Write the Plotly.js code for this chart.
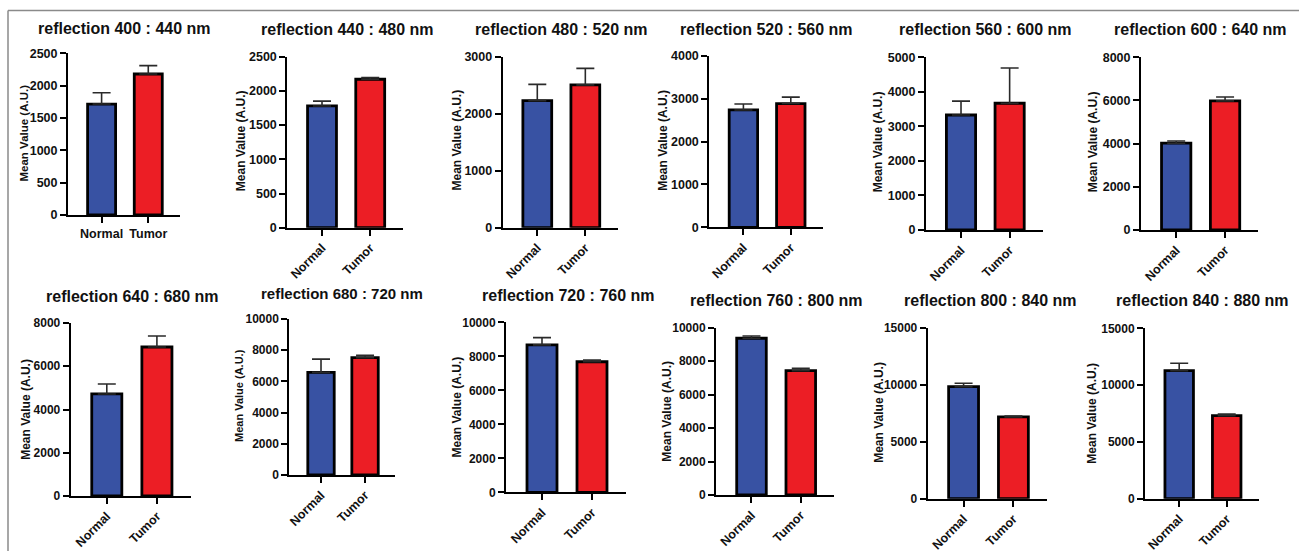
<!DOCTYPE html>
<html>
<head>
<meta charset="utf-8">
<script src="https://cdn.plot.ly/plotly-3.0.1.min.js"></script>
<style>
html,body{margin:0;padding:0;background:#fff;}
#chart{width:1299px;height:551px;}
</style>
</head>
<body>
<div id="chart"></div>
<script>
// ---------- data ----------
const categories = ['Normal', 'Tumor'];
const panelTitles = [
  'reflection 400 : 440 nm', 'reflection 440 : 480 nm', 'reflection 480 : 520 nm',
  'reflection 520 : 560 nm', 'reflection 560 : 600 nm', 'reflection 600 : 640 nm',
  'reflection 640 : 680 nm', 'reflection 680 : 720 nm', 'reflection 720 : 760 nm',
  'reflection 760 : 800 nm', 'reflection 800 : 840 nm', 'reflection 840 : 880 nm'
];
const normalMean = [1715, 1780, 2230, 2740, 3330, 4020, 4720, 6580, 8670, 9370, 9830, 11270];
const normalErr  = [175, 70, 285, 140, 400, 105, 460, 850, 430, 135, 300, 650];
const tumorMean  = [2180, 2170, 2505, 2890, 3670, 5980, 6890, 7520, 7680, 7430, 7170, 7310];
const tumorErr   = [130, 25, 290, 150, 1020, 180, 510, 150, 100, 140, 90, 150];
const yMax   = [2500, 2500, 3000, 4000, 5000, 8000, 8000, 10000, 10000, 10000, 15000, 15000];
const yDtick = [500, 500, 1000, 1000, 1000, 2000, 2000, 2000, 2000, 2000, 5000, 5000];
const yAxisTitle = 'Mean Value (A.U.)';

// ---------- layout geometry (pixels) ----------
const W = 1299, H = 551;
// [axisLeft, axisRight, axisTop, axisBottom]
const boxes = [
  [68, 180, 53.3, 215], [287.3, 403, 56.7, 227.7], [502.7, 618, 56.7, 227.7],
  [709.3, 823, 56, 227.3], [926, 1042.7, 57.3, 230], [1141, 1258.3, 57.3, 230],
  [70.7, 191, 323, 496], [289.3, 395, 319, 475], [506, 626, 322.3, 492.3],
  [716, 834.3, 327.7, 495], [927.7, 1047.3, 327.7, 498.7], [1145, 1259, 328.3, 498.7]
];
// title centre [x, y]
const titlePos = [
  [124, 28.5], [347.5, 29.3], [561.5, 30], [766.5, 29.3], [985, 30], [1200.5, 30],
  [132, 296], [342, 293.5], [568, 295.5], [776, 300.7], [990, 300.7], [1202, 300.7]
];
const titleSize = [16,16,16,16,16,16,16,15,16,16,16,16];
// y-axis title centre [x, y]
const yTitlePos = [
  [23.5, 133], [241.7, 140.5], [457, 140.5], [663.3, 140.5], [878.3, 142], [1093.3, 142],
  [25.8, 409], [239, 396], [456, 407.5], [666.7, 411], [878.3, 412.5], [1091.7, 413]
];
const yTitleSize = [11.5,12,12,12,12,12,12,11,12,12,12,12];

const BLUE = '#3852A3', RED = '#EC1E25';
const FONT = 'Liberation Sans, Arial, Helvetica, sans-serif';

const px = x => x / W;
const py = y => 1 - y / H;

const traces = [];
const layout = {
  width: W, height: H,
  margin: {l: 0, r: 0, t: 0, b: 0},
  paper_bgcolor: '#ffffff', plot_bgcolor: 'rgba(0,0,0,0)',
  showlegend: false,
  font: {family: FONT, color: '#111'},
  annotations: [],
  shapes: [
    {type: 'line', xref: 'paper', yref: 'paper', x0: px(8), x1: px(1299), y0: py(10.5), y1: py(10.5),
     line: {color: '#8a8a8a', width: 1.5}},
    {type: 'line', xref: 'paper', yref: 'paper', x0: px(8), x1: px(8), y0: py(10.5), y1: py(551),
     line: {color: '#8a8a8a', width: 1.5}}
  ]
};

for (let i = 0; i < 12; i++) {
  const n = i === 0 ? '' : String(i + 1);
  const [xl, xr, yt, yb] = boxes[i];
  traces.push({
    type: 'bar',
    x: categories,
    y: [normalMean[i], tumorMean[i]],
    xaxis: 'x' + n, yaxis: 'y' + n,
    width: 0.6,
    marker: {color: [BLUE, RED], line: {color: '#000', width: 2.8}},
    error_y: {type: 'data', symmetric: false,
              array: [normalErr[i], tumorErr[i]], arrayminus: [0, 0],
              color: '#2a2a2a', thickness: 1.6, width: 9},
    hoverinfo: 'x+y'
  });
  layout['xaxis' + n] = {
    domain: [px(xl), px(xr)],
    anchor: 'y' + n,
    type: 'category',
    range: [-0.72, 1.68],
    showline: true, linecolor: '#000', linewidth: 2,
    ticks: 'outside', ticklen: 6, tickwidth: 2, tickcolor: '#000',
    tickangle: i === 0 ? 0 : -45,
    tickfont: {family: FONT, size: 12.5, weight: 'bold', color: '#111'},
    showgrid: false, zeroline: false, fixedrange: true
  };
  layout['yaxis' + n] = {
    domain: [py(yb), py(yt)],
    anchor: 'x' + n,
    range: [0, yMax[i]],
    tick0: 0, dtick: yDtick[i],
    tickformat: 'd', exponentformat: 'none', separatethousands: false,
    showline: true, linecolor: '#000', linewidth: 2,
    ticks: 'outside', ticklen: 6, tickwidth: 2, tickcolor: '#000',
    tickfont: {family: FONT, size: i < 6 ? 12.5 : 12, weight: 'bold', color: '#111'},
    showgrid: false, zeroline: false, fixedrange: true
  };
  layout.annotations.push({
    text: panelTitles[i], xref: 'paper', yref: 'paper',
    x: px(titlePos[i][0]), y: py(titlePos[i][1]),
    xanchor: 'center', yanchor: 'middle', showarrow: false,
    font: {family: FONT, size: titleSize[i], weight: 'bold', color: '#111'}
  });
  layout.annotations.push({
    text: yAxisTitle, xref: 'paper', yref: 'paper',
    x: px(yTitlePos[i][0]), y: py(yTitlePos[i][1]),
    xanchor: 'center', yanchor: 'middle', showarrow: false, textangle: -90,
    font: {family: FONT, size: yTitleSize[i], weight: 'bold', color: '#111'}
  });
}

Plotly.newPlot('chart', traces, layout, {displayModeBar: false, staticPlot: true});
</script>
</body>
</html>
